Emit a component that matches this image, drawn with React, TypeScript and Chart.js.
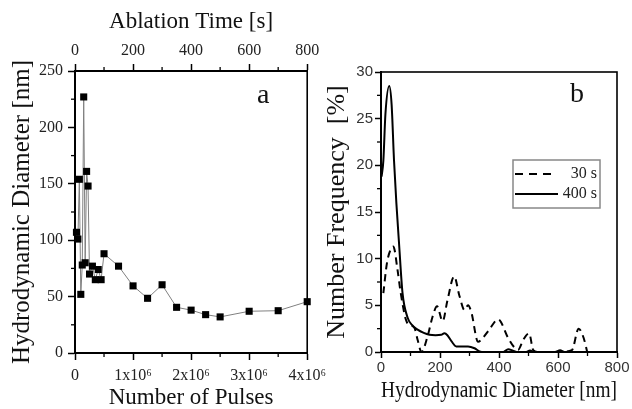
import { useEffect, useRef } from 'react';
import { Chart, registerables } from 'chart.js';

Chart.register(...registerables);

// ---------- Panel a data ----------
const numberOfPulses = [
  25000, 50000, 75000, 100000, 125000, 150000, 175000, 200000, 225000, 250000,
  300000, 350000, 400000, 450000, 500000, 750000, 1000000, 1250000, 1500000,
  1750000, 2000000, 2250000, 2500000, 3000000, 3500000, 4000000,
];
const hydroDiameterNm = [
  107, 101, 154, 52, 78, 227, 80, 161, 148, 70,
  77, 65, 74, 65, 88, 77, 59.5, 48.5, 60.5,
  40.5, 38, 34, 32, 37, 37.5, 45.5,
];
const pulseTickLabels = ['0', '1x10\u2076', '2x10\u2076', '3x10\u2076', '4x10\u2076'];
const ablationTimeTicks = ['0', '200', '400', '600', '800'];

// ---------- Panel b data ----------
const diameter30s = [8, 20, 33, 42, 56, 67, 84, 95, 113, 125, 137, 158, 175, 190, 209, 225, 248, 266, 283, 295, 306, 329, 345, 365, 397, 431, 452, 465, 482, 502, 516, 530, 600, 647, 670, 687, 699];
const freq30s = [6.3, 9.5, 11.0, 11.3, 8.8, 6.3, 3.5, 2.9, 2.6, 1.2, 0, 1.7, 3.8, 4.9, 3.3, 5.5, 8.1, 6.0, 4.5, 5.0, 4.3, 1.1, 1.5, 2.3, 3.5, 1.5, 0.5, 0.25, 1.3, 2.0, 0.2, 0, 0, 0.2, 2.5, 1.5, 0];
const diameter400s = [2, 8, 15, 28, 36, 44, 52, 61, 73, 90, 105, 124, 145, 164, 185, 204, 215, 225, 240, 255, 275, 295, 317, 334, 350, 415, 431, 447, 460, 490, 505, 520, 590, 607, 622, 640];
const freq400s = [18.8, 20.5, 25.5, 28.5, 26.5, 20.6, 16, 11.7, 6.3, 3.7, 2.9, 2.4, 2.05, 1.85, 1.8, 1.85, 2.0, 1.8, 1.1, 0.6, 0.6, 0.6, 0.4, 0.07, 0, 0, 0.3, 0.15, 0, 0, 0.15, 0, 0, 0.2, 0, 0];

const SERIF = '"Liberation Serif", "Times New Roman", serif';
const SANS = '"Liberation Sans", Arial, sans-serif';

type MinorSpec = { id: string; step: number; side: 'left' | 'bottom' | 'top' };

function minorTickPlugin(specs: MinorSpec[]) {
  return {
    id: 'minorTicks',
    afterDraw(chart: any) {
      const ctx = chart.ctx;
      ctx.save();
      ctx.strokeStyle = '#000';
      ctx.lineWidth = 1.3;
      for (const s of specs) {
        const sc = chart.scales[s.id];
        const min = sc.min, max = sc.max;
        for (let v = min + s.step / 2; v < max; v += s.step) {
          const p = sc.getPixelForValue(v);
          ctx.beginPath();
          if (s.side === 'left') {
            ctx.moveTo(sc.right, p); ctx.lineTo(sc.right - 4, p);
          } else if (s.side === 'bottom') {
            ctx.moveTo(p, sc.top); ctx.lineTo(p, sc.top + 4);
          } else {
            ctx.moveTo(p, sc.bottom); ctx.lineTo(p, sc.bottom - 4);
          }
          ctx.stroke();
        }
      }
      ctx.restore();
    },
  };
}

const framePlugin = {
  id: 'frame',
  afterDraw(chart: any) {
    const { ctx, chartArea: a } = chart;
    ctx.save();
    ctx.strokeStyle = '#000';
    ctx.lineWidth = 1.6;
    ctx.strokeRect(a.left, a.top, a.right - a.left, a.bottom - a.top);
    ctx.restore();
  },
};

function panelLabel(text: string, dx: number, dy: number) {
  return {
    id: 'panelLabel',
    afterDraw(chart: any) {
      const { ctx, chartArea: a } = chart;
      ctx.save();
      ctx.fillStyle = '#111';
      ctx.font = `28px ${SERIF}`;
      ctx.textAlign = 'center';
      ctx.textBaseline = 'middle';
      ctx.fillText(text, a.right - dx, a.top + dy);
      ctx.restore();
    },
  };
}

const legendPlugin = {
  id: 'customLegend',
  afterDraw(chart: any) {
    const { ctx, chartArea: a } = chart;
    const right = a.right - 17;
    const left = right - 87;
    const top = a.top + 88;
    const h = 48;
    ctx.save();
    ctx.strokeStyle = '#888';
    ctx.lineWidth = 1.5;
    ctx.strokeRect(left, top, right - left, h);
    ctx.strokeStyle = '#000';
    ctx.lineWidth = 2;
    ctx.setLineDash([8, 6]);
    ctx.beginPath();
    ctx.moveTo(left + 2, top + 14);
    ctx.lineTo(left + 42, top + 14);
    ctx.stroke();
    ctx.setLineDash([]);
    ctx.beginPath();
    ctx.moveTo(left + 2, top + 34);
    ctx.lineTo(left + 45, top + 34);
    ctx.stroke();
    ctx.fillStyle = '#222';
    ctx.font = `16px ${SERIF}`;
    ctx.textAlign = 'right';
    ctx.textBaseline = 'middle';
    const labels = chart.data.datasets.map((d: any) => d.label);
    ctx.fillText(labels[0], right - 3, top + 14);
    ctx.fillText(labels[1], right - 3, top + 34);
    ctx.restore();
  },
};

const tickGrid = (len: number) => ({
  display: true,
  drawOnChartArea: false,
  drawTicks: true,
  tickLength: len,
  tickColor: '#000',
  tickWidth: 1.5,
  color: '#000',
});

export default function App() {
  const refA = useRef<HTMLCanvasElement>(null);
  const refB = useRef<HTMLCanvasElement>(null);

  useEffect(() => {
    const chartA = new Chart(refA.current as HTMLCanvasElement, {
      type: 'line',
      data: {
        datasets: [
          {
            data: numberOfPulses.map((p, i) => ({ x: p, y: hydroDiameterNm[i] })),
            borderColor: '#808080',
            borderWidth: 1,
            pointStyle: 'rect',
            pointRadius: 5,
            pointBackgroundColor: '#000',
            pointBorderColor: '#000',
            pointBorderWidth: 0,
            tension: 0,
            clip: false as any,
          },
        ],
      },
      options: {
        responsive: false,
        animation: false,
        events: [],
        layout: { padding: { left: 0, right: 20, top: 0, bottom: 0 } },
        plugins: { legend: { display: false }, tooltip: { enabled: false } },
        scales: {
          x: {
            type: 'linear',
            position: 'bottom',
            min: 0,
            max: 4000000,
            ticks: {
              stepSize: 1000000,
              autoSkip: false,
              maxRotation: 0,
              padding: 6,
              color: '#222',
              font: { family: SERIF, size: 16 },
              callback: (_v: any, i: number) => pulseTickLabels[i],
            },
            grid: tickGrid(7),
            border: { display: true, color: '#000', width: 2 },
            title: {
              display: true,
              text: 'Number of Pulses',
              color: '#111',
              font: { family: SERIF, size: 23, lineHeight: 1 },
              padding: { top: 0, bottom: 0 },
            },
            afterFit: (s: any) => { s.height = 56; },
          },
          x2: {
            type: 'linear',
            position: 'top',
            min: 0,
            max: 800,
            ticks: {
              stepSize: 200,
              autoSkip: false,
              maxRotation: 0,
              padding: 4,
              color: '#222',
              font: { family: SERIF, size: 16 },
              callback: (_v: any, i: number) => ablationTimeTicks[i],
            },
            grid: tickGrid(7),
            border: { display: true, color: '#000', width: 2 },
            title: {
              display: true,
              text: 'Ablation Time [s]',
              color: '#111',
              font: { family: SERIF, size: 23 },
              padding: { top: 8, bottom: 0 },
            },
            afterFit: (s: any) => { s.height = 71; },
          },
          y: {
            type: 'linear',
            position: 'left',
            min: 0,
            max: 250,
            ticks: {
              stepSize: 50,
              padding: 5,
              color: '#222',
              font: { family: SERIF, size: 16 },
            },
            grid: tickGrid(7),
            border: { display: true, color: '#000', width: 2 },
            title: {
              display: true,
              text: 'Hydrodynamic Diameter [nm]',
              color: '#111',
              font: { family: SERIF, size: 25 },
              padding: { top: 7, bottom: 0 },
            },
            afterFit: (s: any) => { s.width = 75; },
          },
        },
      },
      plugins: [
        framePlugin,
        minorTickPlugin([
          { id: 'x', step: 1000000, side: 'bottom' },
          { id: 'x2', step: 200, side: 'top' },
          { id: 'y', step: 50, side: 'left' },
        ]),
        panelLabel('a', 44, 25),
      ],
    } as any);

    const chartB = new Chart(refB.current as HTMLCanvasElement, {
      type: 'line',
      data: {
        datasets: [
          {
            label: '30 s',
            data: diameter30s.map((d, i) => ({ x: d, y: freq30s[i] })),
            borderColor: '#000',
            borderWidth: 2,
            borderDash: [7, 5],
            pointRadius: 0,
            cubicInterpolationMode: 'monotone',
            fill: false,
          },
          {
            label: '400 s',
            data: diameter400s.map((d, i) => ({ x: d, y: freq400s[i] })),
            borderColor: '#000',
            borderWidth: 2,
            pointRadius: 0,
            cubicInterpolationMode: 'monotone',
            fill: false,
          },
        ],
      },
      options: {
        responsive: false,
        animation: false,
        events: [],
        layout: { padding: { left: 0, right: 15, top: 72, bottom: 0 } },
        plugins: { legend: { display: false }, tooltip: { enabled: false } },
        scales: {
          x: {
            type: 'linear',
            position: 'bottom',
            min: 0,
            max: 800,
            ticks: {
              stepSize: 200,
              autoSkip: false,
              maxRotation: 0,
              padding: 1,
              color: '#333',
              font: { family: SANS, size: 15 },
            },
            grid: tickGrid(6),
            border: { display: true, color: '#000', width: 2 },
            title: {
              display: true,
              text: 'Hydrodynamic Diameter [nm]',
              color: '#111',
              font: { family: SERIF, size: 23, lineHeight: 1 },
              padding: { top: 0, bottom: 7 },
            },
            afterFit: (s: any) => { s.height = 57; },
          },
          y: {
            type: 'linear',
            position: 'left',
            min: 0,
            max: 30,
            ticks: {
              stepSize: 5,
              padding: 2,
              color: '#333',
              font: { family: SANS, size: 15 },
            },
            grid: tickGrid(6),
            border: { display: true, color: '#000', width: 2 },
            title: {
              display: true,
              text: 'Number Frequency  [%]',
              color: '#111',
              font: { family: SERIF, size: 26 },
              padding: { top: 0, bottom: 0 },
            },
            afterFit: (s: any) => { s.width = 59; },
          },
        },
      },
      plugins: [
        framePlugin,
        minorTickPlugin([
          { id: 'x', step: 200, side: 'bottom' },
          { id: 'y', step: 5, side: 'left' },
        ]),
        panelLabel('b', 40, 23),
        legendPlugin,
      ],
    } as any);

    return () => {
      chartA.destroy();
      chartB.destroy();
    };
  }, []);

  return (
    <div style={{ position: 'fixed', left: 0, top: 0, width: 632, height: 409, background: '#fff' }}>
      <canvas
        ref={refA}
        width={332}
        height={409}
        style={{ position: 'absolute', left: 0, top: 0, width: 332, height: 409 }}
      />
      <canvas
        ref={refB}
        width={310}
        height={409}
        style={{ position: 'absolute', left: 322, top: 0, width: 310, height: 409 }}
      />
    </div>
  );
}
